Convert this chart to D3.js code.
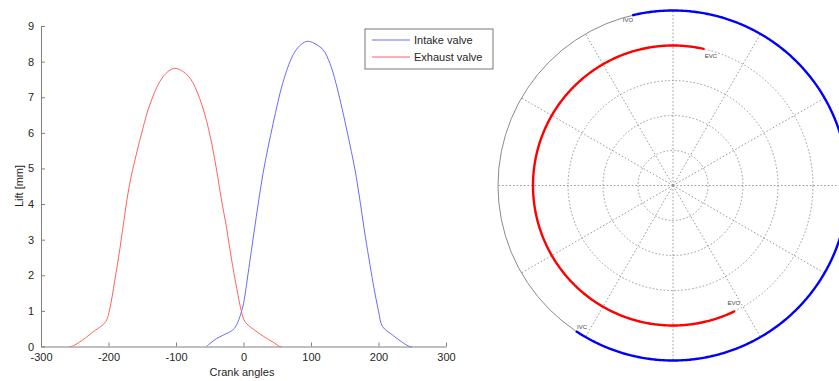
<!DOCTYPE html>
<html>
<head>
<meta charset="utf-8">
<script src="https://cdn.jsdelivr.net/npm/d3@7"></script>
<style>
  html, body { margin: 0; padding: 0; background: #fff; }
  svg { display: block; font-family: "Liberation Sans", Arial, sans-serif; }
</style>
</head>
<body>
<svg id="chart" width="839" height="381"></svg>
<script>
// Valve lift versus crank angle (degrees), lift in mm
const intakeAngle = [-55, -50, -40, -30, -16, -12, -8, -3, 0, 9, 19, 29, 44, 58, 70, 78, 88, 96, 104, 118, 128, 137, 152, 167, 179, 192, 200, 206, 221, 235, 246, 250];
const intakeLift  = [0, 0.08, 0.22, 0.32, 0.46, 0.55, 0.70, 0.98, 1.20, 2.34, 3.65, 4.87, 6.27, 7.39, 8.05, 8.33, 8.52, 8.57, 8.52, 8.33, 7.95, 7.39, 6.17, 4.77, 3.27, 1.78, 1.00, 0.56, 0.32, 0.12, 0, 0];

const exhaustAngle = [-258, -255, -240, -225, -204, -198, -191, -183, -176, -169, -159, -149, -139, -124, -112, -102, -92, -79, -65, -52, -42, -33, -25, -18, -10, -3, 2, 15, 30, 44, 54, 57];
const exhaustLift  = [0, 0, 0.16, 0.38, 0.70, 1.07, 1.82, 2.76, 3.69, 4.54, 5.38, 6.13, 6.78, 7.44, 7.72, 7.81, 7.75, 7.53, 6.97, 6.13, 5.19, 4.16, 3.32, 2.48, 1.63, 0.98, 0.70, 0.48, 0.28, 0.12, 0, 0];

const xTicks = [-300, -200, -100, 0, 100, 200, 300];
const yTicks = [0, 1, 2, 3, 4, 5, 6, 7, 8, 9];
const seriesNames = ["Intake valve", "Exhaust valve"];
const seriesColors = ["#6a6aff", "#ff6262"];

// Valve timing events (crank degrees, clockwise from TDC at top)
const eventNames  = ["IVO", "IVC", "EVO", "EVC"];
const eventAngles = [-13.5, 213.7, -206.3, 13];
const ringValues  = [0.2, 0.4, 0.6, 0.8, 1.0];
const spokeAngles = [0, 30, 60, 90, 120, 150, 180, 210, 240, 270, 300, 330];
const intakeRadius = 1.0;
const exhaustRadius = 0.8;

const svg = d3.select("#chart");
const axisColor = "#808080";
const textColor = "#262626";

// ---------- Lift plot ----------
const x = d3.scaleLinear().domain([-300, 300]).range([41, 446]);
const y = d3.scaleLinear().domain([0, 9]).range([346.5, 26]);

const left = svg.append("g");

const plainFmt = d => String(d);
const xAxis = d3.axisBottom(x).tickValues(xTicks).tickFormat(plainFmt)
  .tickSizeInner(-4).tickSizeOuter(0).tickPadding(7);
const gx = left.append("g").attr("transform", `translate(0,${y(0)})`).call(xAxis);
const yAxis = d3.axisLeft(y).tickValues(yTicks).tickFormat(plainFmt)
  .tickSizeInner(-4).tickSizeOuter(0).tickPadding(7);
const gy = left.append("g").attr("transform", `translate(${x(-300)},0)`).call(yAxis);

[gx, gy].forEach(g => {
  g.attr("font-size", 11).attr("font-family", "Liberation Sans, Arial, sans-serif");
  g.select(".domain").attr("stroke", axisColor);
  g.selectAll(".tick line").attr("stroke", axisColor);
  g.selectAll(".tick text").attr("fill", textColor);
});

left.append("text")
  .attr("x", 242).attr("y", 376)
  .attr("text-anchor", "middle").attr("font-size", 11).attr("fill", textColor)
  .text("Crank angles");
left.append("text")
  .attr("transform", "translate(23,186) rotate(-90)")
  .attr("text-anchor", "middle").attr("font-size", 11).attr("fill", textColor)
  .text("Lift [mm]");

const line = d3.line().x(d => x(d[0])).y(d => y(d[1])).curve(d3.curveCatmullRom.alpha(0.5));
const intakePts = intakeAngle.map((a, i) => [a, intakeLift[i]]);
const exhaustPts = exhaustAngle.map((a, i) => [a, exhaustLift[i]]);

left.append("path").datum(intakePts).attr("d", line)
  .attr("fill", "none").attr("stroke", seriesColors[0]).attr("stroke-width", 1);
left.append("path").datum(exhaustPts).attr("d", line)
  .attr("fill", "none").attr("stroke", seriesColors[1]).attr("stroke-width", 1);

// Legend
const legend = svg.append("g").attr("transform", "translate(365,29)");
legend.append("rect").attr("width", 128).attr("height", 40)
  .attr("fill", "#fff").attr("stroke", "#555").attr("stroke-width", 0.8);
seriesNames.forEach((name, i) => {
  const ly = 11 + i * 17;
  legend.append("line").attr("x1", 7).attr("x2", 45).attr("y1", ly).attr("y2", ly)
    .attr("stroke", seriesColors[i]).attr("stroke-width", 1.2);
  legend.append("text").attr("x", 49).attr("y", ly + 4)
    .attr("font-size", 11).attr("fill", textColor).text(name);
});

// ---------- Valve timing polar diagram ----------
const cx = 673, cy = 185.5;
const r = d3.scaleLinear().domain([0, 1]).range([0, 175]);
const rad = deg => deg * Math.PI / 180;
const polar = svg.append("g").attr("transform", `translate(${cx},${cy})`);

// rings
ringValues.forEach(v => {
  polar.append("circle").attr("r", r(v)).attr("fill", "none")
    .attr("stroke", v === 1 ? "#8a8a8a" : "#8f8f8f")
    .attr("stroke-width", v === 1 ? 1 : 0.9)
    .attr("stroke-dasharray", v === 1 ? null : "1.6,2");
});
// spokes
spokeAngles.forEach(a => {
  polar.append("line")
    .attr("x1", 0).attr("y1", 0)
    .attr("x2", r(1) * Math.sin(rad(a))).attr("y2", -r(1) * Math.cos(rad(a)))
    .attr("stroke", "#8f8f8f").attr("stroke-width", 0.9).attr("stroke-dasharray", "1.6,2");
});

const radial = d3.lineRadial().angle(d => rad(d[0])).radius(d => r(d[1]));
function arcPoints(a0, a1, rv) {
  return d3.range(a0, a1, 0.5).concat([a1]).map(a => [a, rv]);
}
const ev = Object.fromEntries(eventNames.map((n, i) => [n, eventAngles[i]]));

polar.append("path").datum(arcPoints(ev.IVO, ev.IVC, intakeRadius)).attr("d", radial)
  .attr("fill", "none").attr("stroke", "#0000ff").attr("stroke-width", 2.4);
polar.append("path").datum(arcPoints(ev.EVO, ev.EVC, exhaustRadius)).attr("d", radial)
  .attr("fill", "none").attr("stroke", "#ff0000").attr("stroke-width", 2.4);

// event labels: small angular shift and radial inset from each arc end
const labelLayout = {
  IVO: { rv: intakeRadius,  dAng: -1.7, inset: 3 },
  IVC: { rv: intakeRadius,  dAng: -1.0, inset: 6.5 },
  EVO: { rv: exhaustRadius, dAng: -1.2, inset: 8 },
  EVC: { rv: exhaustRadius, dAng: 3.4,  inset: 5.5 }
};
eventNames.forEach(n => {
  const L = labelLayout[n];
  const a = rad(ev[n] + L.dAng);
  const rr = r(L.rv) - L.inset;
  polar.append("text")
    .attr("x", rr * Math.sin(a)).attr("y", -rr * Math.cos(a))
    .attr("text-anchor", "middle").attr("dominant-baseline", "central")
    .attr("font-size", 6).attr("fill", "#444").text(n);
});
</script>
</body>
</html>
